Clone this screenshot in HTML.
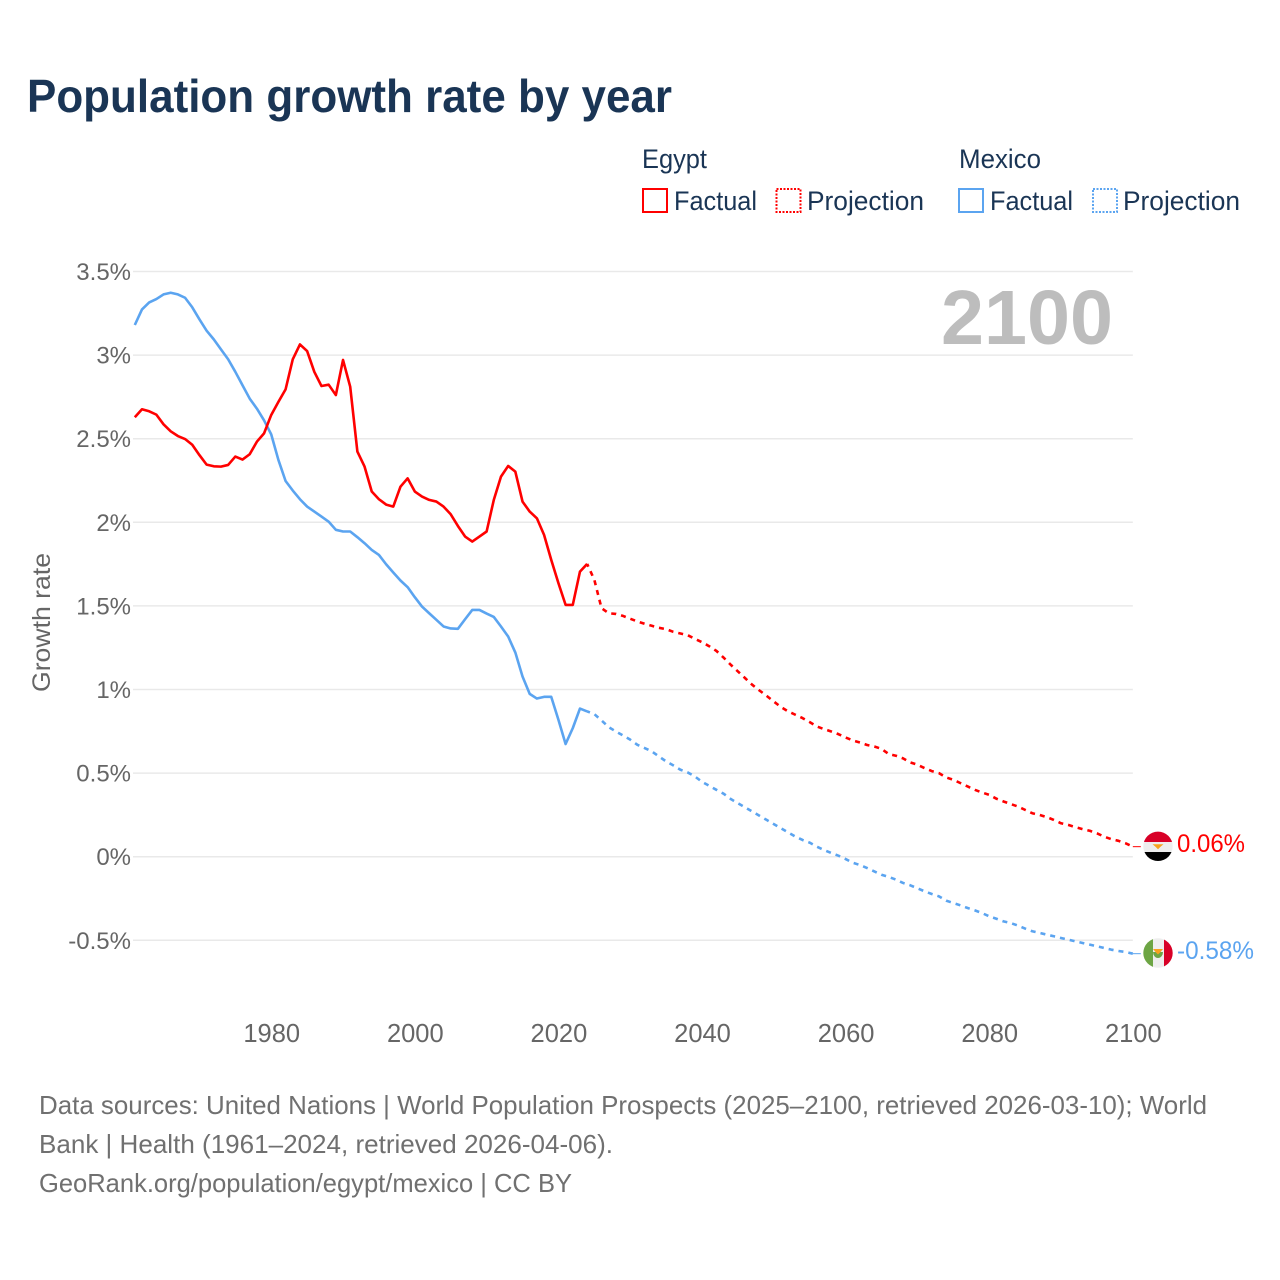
<!DOCTYPE html>
<html lang="en">
<head>
<meta charset="utf-8">
<title>Population growth rate by year</title>
<style>
html,body{margin:0;padding:0;background:#fff;width:1280px;height:1280px;overflow:hidden}
svg{display:block;font-family:"Liberation Sans",sans-serif}
</style>
</head>
<body>
<svg id="chart" xmlns="http://www.w3.org/2000/svg" width="1280" height="1280" viewBox="0 0 1280 1280">
  <rect width="1280" height="1280" fill="#fff"/>
  <text x="27" y="112" font-size="46" font-weight="700" fill="#1a3555" textLength="645" lengthAdjust="spacingAndGlyphs">Population growth rate by year</text>

  <g font-size="27" fill="#1a3555">
    <text x="642" y="168" textLength="65" lengthAdjust="spacingAndGlyphs">Egypt</text>
    <text x="959" y="168" textLength="82" lengthAdjust="spacingAndGlyphs">Mexico</text>
    <g>
      <rect x="643" y="189" width="24" height="23" fill="none" stroke="#ff0000" stroke-width="2"/>
      <text x="674" y="210" textLength="83" lengthAdjust="spacingAndGlyphs">Factual</text>
    </g>
    <g>
      <rect x="776.5" y="189" width="24" height="23" fill="none" stroke="#ff0000" stroke-width="2" stroke-dasharray="2,1.5"/>
      <text x="807" y="210" textLength="117" lengthAdjust="spacingAndGlyphs">Projection</text>
    </g>
    <g>
      <rect x="959" y="189" width="24" height="23" fill="none" stroke="#5ba4f0" stroke-width="2"/>
      <text x="990" y="210" textLength="83" lengthAdjust="spacingAndGlyphs">Factual</text>
    </g>
    <g>
      <rect x="1093" y="189" width="24" height="23" fill="none" stroke="#5ba4f0" stroke-width="2" stroke-dasharray="2,1.5"/>
      <text x="1123" y="210" textLength="117" lengthAdjust="spacingAndGlyphs">Projection</text>
    </g>
  </g>

  <g id="grid"></g>
  <g id="yticks"></g>
  <g id="xticks"></g>
  <text transform="translate(50,692) rotate(-90)" font-size="25" fill="#666" textLength="139" lengthAdjust="spacingAndGlyphs">Growth rate</text>
  <text x="1113" y="344" text-anchor="end" font-size="77" font-weight="700" fill="#bdbdbd" textLength="172" lengthAdjust="spacingAndGlyphs">2100</text>
  <g id="series"></g>

  <defs>
    <clipPath id="flag-clip-eg"><circle cx="1158" cy="846.3" r="14.7"/></clipPath>
    <clipPath id="flag-clip-mx"><circle cx="1158" cy="953" r="14.7"/></clipPath>
  </defs>
  <g clip-path="url(#flag-clip-eg)">
    <rect x="1143" y="831" width="30" height="11" fill="#d80027"/>
    <rect x="1143" y="842" width="30" height="10" fill="#eeeeee"/>
    <rect x="1143" y="852" width="30" height="10" fill="#000"/>
    <path d="M1152.500 844.200h11l-3 2.600-2.500 2.400-2.500-2.400z" fill="#f7a11e"/>
  </g>
  <g clip-path="url(#flag-clip-mx)">
    <rect x="1143" y="938" width="10" height="30" fill="#6da544"/>
    <rect x="1153" y="938" width="11" height="30" fill="#eeeeee"/>
    <rect x="1164" y="938" width="10" height="30" fill="#d80027"/>
    <path d="M1153 952a5 6 0 0 0 10 0z" fill="#6da544"/>
    <path d="M1153 949h10l-2.500 3-2.500 2.500-2.500-2.500z" fill="#f7a11e"/>
  </g>
  <text x="1177" y="852" font-size="25" fill="#ff0000" textLength="68" lengthAdjust="spacingAndGlyphs">0.06%</text>
  <text x="1177" y="959" font-size="25" fill="#5ba4f0" textLength="77" lengthAdjust="spacingAndGlyphs">-0.58%</text>

  <g font-size="26" fill="#707070">
    <text x="39" y="1114" textLength="1168" lengthAdjust="spacingAndGlyphs">Data sources: United Nations | World Population Prospects (2025–2100, retrieved 2026-03-10); World</text>
    <text x="39" y="1153" textLength="574" lengthAdjust="spacingAndGlyphs">Bank | Health (1961–2024, retrieved 2026-04-06).</text>
    <text x="39" y="1192" textLength="533" lengthAdjust="spacingAndGlyphs">GeoRank.org/population/egypt/mexico | CC BY</text>
  </g>
</svg>
<script>
const factualStartYear = 1961;
const projectionStartYear = 2025;
const xTickYears = [1980, 2000, 2020, 2040, 2060, 2080, 2100];
const yTickValues = [3.5, 3, 2.5, 2, 1.5, 1, 0.5, 0, -0.5];
const yTickLabels = ["3.5%", "3%", "2.5%", "2%", "1.5%", "1%", "0.5%", "0%", "-0.5%"];

const egyptFactual = [
  2.628,2.676,2.664,2.644,2.586,2.544,2.516,2.498,2.464,2.402,
  2.345,2.335,2.333,2.343,2.393,2.375,2.407,2.482,2.532,2.642,
  2.72,2.795,2.975,3.064,3.024,2.90,2.815,2.823,2.761,2.971,
  2.811,2.423,2.333,2.184,2.138,2.106,2.094,2.213,2.263,2.184,
  2.154,2.134,2.124,2.094,2.048,1.978,1.915,1.885,1.915,1.945,
  2.134,2.273,2.337,2.303,2.124,2.064,2.024,1.925,1.775,1.636,
  1.506,1.506,1.705,1.751
];
const egyptProjection = [
  1.656,1.487,1.456,1.452,1.44,1.423,1.407,1.393,1.381,1.369,1.361,
  1.345,1.335,1.325,1.303,1.283,1.259,1.231,1.191,1.148,1.108,
  1.068,1.028,0.994,0.962,0.928,0.895,0.869,0.849,0.829,0.805,
  0.779,0.763,0.749,0.733,0.713,0.695,0.683,0.668,0.659,0.645,
  0.614,0.604,0.588,0.564,0.55,0.53,0.512,0.50,0.474,0.46,
  0.44,0.42,0.40,0.384,0.37,0.347,0.33,0.315,0.30,0.28,
  0.26,0.25,0.237,0.22,0.20,0.19,0.177,0.165,0.155,0.14,
  0.12,0.105,0.095,0.08,0.06
];
const mexicoFactual = [
  3.18,3.273,3.315,3.335,3.363,3.373,3.363,3.343,3.286,3.214,
  3.146,3.094,3.034,2.975,2.90,2.82,2.74,2.68,2.61,2.526,
  2.373,2.247,2.19,2.138,2.094,2.064,2.034,2.004,1.955,1.945,
  1.945,1.911,1.875,1.835,1.805,1.749,1.70,1.652,1.612,1.552,
  1.496,1.456,1.417,1.377,1.365,1.363,1.42,1.476,1.476,1.454,
  1.434,1.377,1.317,1.221,1.078,0.974,0.946,0.956,0.956,0.819,
  0.674,0.769,0.886,0.869
];
const mexicoProjection = [
  0.853,0.815,0.775,0.749,0.725,0.70,0.669,0.65,0.63,0.60,0.57,
  0.546,0.52,0.504,0.48,0.448,0.424,0.40,0.377,0.345,0.32,
  0.295,0.27,0.245,0.22,0.195,0.17,0.145,0.12,0.10,0.084,
  0.06,0.04,0.022,0.006,-0.014,-0.036,-0.05,-0.068,-0.088,-0.108,
  -0.121,-0.137,-0.157,-0.171,-0.189,-0.207,-0.223,-0.237,-0.263,-0.277,
  -0.291,-0.307,-0.321,-0.337,-0.357,-0.371,-0.387,-0.397,-0.412,-0.43,
  -0.446,-0.456,-0.466,-0.476,-0.486,-0.496,-0.506,-0.516,-0.526,-0.536,
  -0.546,-0.556,-0.564,-0.57,-0.58
];

const NS = "http://www.w3.org/2000/svg";
const RED = "#ff0000";
const BLUE = "#5ba4f0";
const xScale = function (year) { return 134.8 + (year - 1961) * 7.18; };
const yScale = function (value) { return 856.7 - value * 167.2; };

function makeEl(tag, attrs, parent) {
  const el = document.createElementNS(NS, tag);
  Object.keys(attrs).forEach(function (k) { el.setAttribute(k, attrs[k]); });
  parent.appendChild(el);
  return el;
}

function seriesPoints(values, startYear) {
  return values.map(function (v, i) {
    return xScale(startYear + i).toFixed(2) + "," + yScale(v).toFixed(2);
  });
}

const gridGroup = document.getElementById("grid");
const yTickGroup = document.getElementById("yticks");
const xTickGroup = document.getElementById("xticks");
const seriesGroup = document.getElementById("series");

yTickValues.forEach(function (v, i) {
  const line = makeEl("line", { x1: 133, x2: xScale(2100), y1: yScale(v), y2: yScale(v), stroke: "#e9e9e9", "stroke-width": 1.5 }, gridGroup);
  
  
  const label = makeEl("text", { x: 131, y: yScale(v) + 8.5, "text-anchor": "end", "font-size": 24, fill: "#666" }, yTickGroup);
  
  
  label.textContent = yTickLabels[i];
});

xTickYears.forEach(function (year) {
  const label = makeEl("text", { x: xScale(year) + 0.5, y: 1042, "text-anchor": "middle", "font-size": 25.5, fill: "#666" }, xTickGroup);
  
  
  label.textContent = String(year);
});

function drawCountry(factual, projection, color) {
  const fPts = seriesPoints(factual, factualStartYear);
  const pPts = seriesPoints(projection, projectionStartYear);
  const solid = makeEl("polyline", { points: fPts.join(" "), fill: "none", stroke: color, "stroke-width": 2.6, "stroke-linejoin": "round" }, seriesGroup);
  
  
  const dashed = makeEl("polyline", { points: [fPts[fPts.length - 1]].concat(pPts).join(" "), fill: "none", stroke: color, "stroke-width": 2.6, "stroke-dasharray": "5,5", "stroke-dashoffset": 2, "stroke-linejoin": "round" }, seriesGroup);
  
  
  const endY = yScale(projection[projection.length - 1]);
  const stub = makeEl("line", { x1: xScale(2100), x2: xScale(2100) + 8, y1: endY, y2: endY, stroke: color, "stroke-width": 1 }, seriesGroup);
  
  
}

drawCountry(mexicoFactual, mexicoProjection, BLUE);
drawCountry(egyptFactual, egyptProjection, RED);
</script>
</body>
</html>
